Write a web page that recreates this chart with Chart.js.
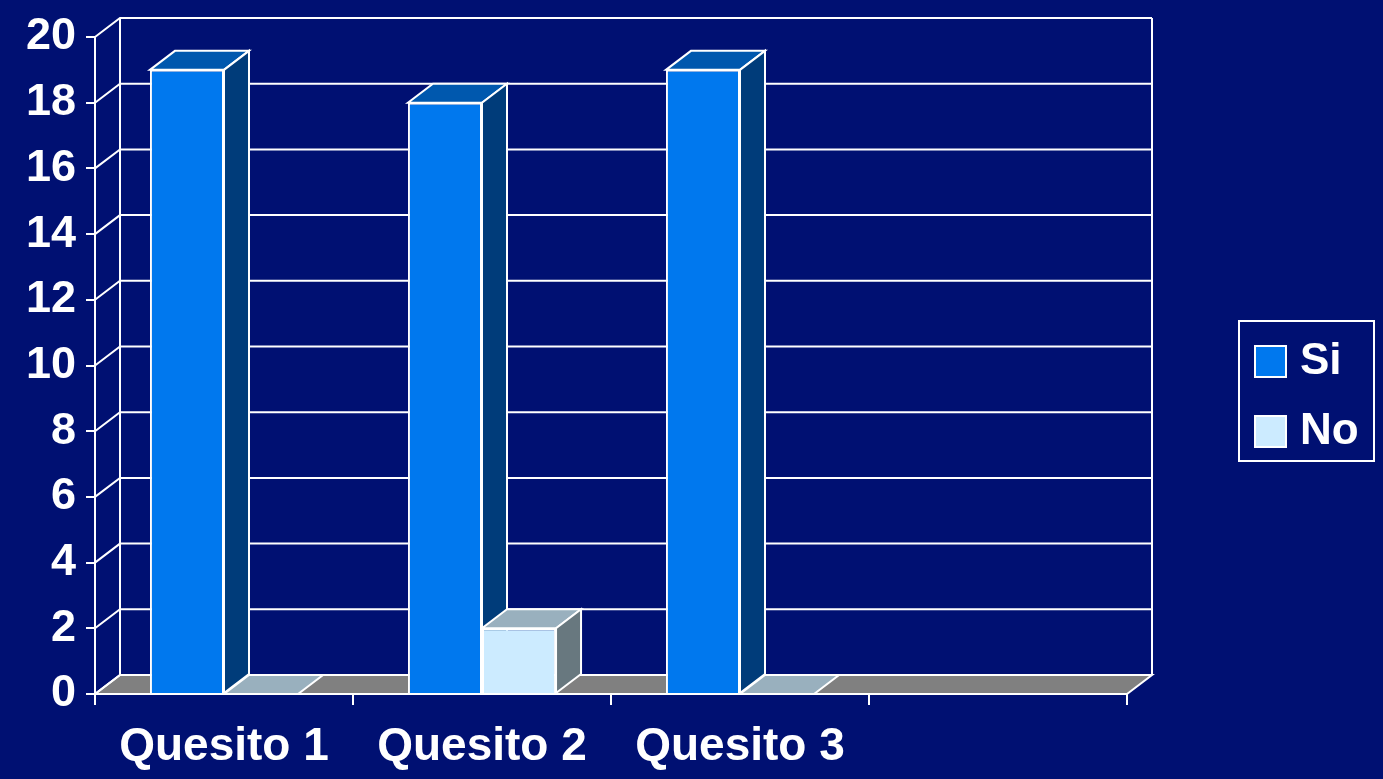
<!DOCTYPE html>
<html>
<head>
<meta charset="utf-8">
<script src="https://cdn.jsdelivr.net/npm/chart.js@4/dist/chart.umd.min.js"></script>
<style>
  html, body { margin: 0; padding: 0; background: #001072; }
  canvas { display: block; }
</style>
</head>
<body>
<canvas id="grafica" width="1383" height="779"></canvas>
<script>
// datos del grafico
const categorias = ['Quesito 1', 'Quesito 2', 'Quesito 3', ''];
const valoresSi = [19, 18, 19, null];
const valoresNo = [0, 2, 0, null];
const nombresSeries = ['Si', 'No'];
const marcasY = [0, 2, 4, 6, 8, 10, 12, 14, 16, 18, 20];

const fondo = '#001072';
const coloresFrente = ['#0078EE', '#CCEBFF'];
const coloresArriba = ['#0058AE', '#99B0BE'];
const coloresLado = ['#003C7A', '#68787F'];
const dx = 25, dy = -19;

const fuente = "'Liberation Sans', Arial, sans-serif";

function poligono(ctx, pts, relleno) {
    ctx.beginPath();
    ctx.moveTo(pts[0][0], pts[0][1]);
    for (let i = 1; i < pts.length; i++) ctx.lineTo(pts[i][0], pts[i][1]);
    ctx.closePath();
    if (relleno) {
        ctx.fillStyle = relleno;
        ctx.fill();
    }
    ctx.stroke();
}

const pared3d = {
    id: 'pared3d',
    beforeDraw(chart) {
        const ctx = chart.ctx;
        ctx.save();
        ctx.fillStyle = fondo;
        ctx.fillRect(0, 0, chart.width, chart.height);
        ctx.restore();
    },
    beforeDatasetsDraw(chart) {
        const ctx = chart.ctx;
        const a = chart.chartArea;
        const y = chart.scales.y;
        const y0 = y.getPixelForValue(0);
        ctx.save();
        ctx.strokeStyle = '#ffffff';
        ctx.lineWidth = 2;

        // piso
        poligono(ctx, [[a.left, y0], [a.right, y0], [a.right + dx, y0 + dy], [a.left + dx, y0 + dy]], '#808080');

        // lineas de la pared del fondo
        marcasY.forEach(v => {
            const py = y.getPixelForValue(v);
            ctx.beginPath();
            ctx.moveTo(a.left, py);
            ctx.lineTo(a.left + dx, py + dy);
            ctx.lineTo(a.right + dx, py + dy);
            ctx.stroke();
        });
        const yTop = y.getPixelForValue(20);
        ctx.beginPath();
        ctx.moveTo(a.left + dx, yTop + dy);
        ctx.lineTo(a.left + dx, y0 + dy);
        ctx.moveTo(a.right + dx, yTop + dy);
        ctx.lineTo(a.right + dx, y0 + dy);
        ctx.stroke();

        // caras de arriba y de lado de las barras
        chart.data.datasets.forEach((ds, i) => {
            const meta = chart.getDatasetMeta(i);
            meta.data.forEach((bar, j) => {
                if (ds.data[j] === null) return;
                const l = bar.x - bar.width / 2;
                const r = bar.x + bar.width / 2;
                const t = bar.y;
                const b = bar.base;
                poligono(ctx, [[l, t], [r, t], [r + dx, t + dy], [l + dx, t + dy]], coloresArriba[i]);
                if (b - t > 0.5) {
                    poligono(ctx, [[r, t], [r + dx, t + dy], [r + dx, b + dy], [r, b]], coloresLado[i]);
                }
            });
        });
        ctx.restore();
    },
    afterDraw(chart) {
        // leyenda
        const ctx = chart.ctx;
        ctx.save();
        ctx.strokeStyle = '#ffffff';
        ctx.lineWidth = 2;
        ctx.strokeRect(1239, 321, 135, 140);
        ctx.font = 'bold 44px ' + fuente;
        ctx.textBaseline = 'middle';
        nombresSeries.forEach((n, i) => {
            const cy = 361 + i * 70;
            ctx.fillStyle = coloresFrente[i];
            ctx.fillRect(1255, cy - 15, 31, 31);
            ctx.strokeRect(1255, cy - 15, 31, 31);
            ctx.fillStyle = '#ffffff';
            ctx.fillText(n, 1300, cy + 1);
        });
        ctx.restore();
    }
};

new Chart(document.getElementById('grafica').getContext('2d'), {
    type: 'bar',
    data: {
        labels: categorias,
        datasets: [
            {
                label: nombresSeries[0],
                data: valoresSi,
                backgroundColor: coloresFrente[0],
                borderColor: '#ffffff',
                borderWidth: 2
            },
            {
                label: nombresSeries[1],
                data: valoresNo,
                backgroundColor: coloresFrente[1],
                borderColor: '#ffffff',
                borderWidth: 2
            }
        ]
    },
    options: {
        responsive: false,
        animation: false,
        categoryPercentage: 0.574,
        barPercentage: 1,
        layout: { padding: { top: 34, right: 256, left: 0, bottom: 0 } },
        plugins: {
            legend: { display: false },
            tooltip: { enabled: false }
        },
        scales: {
            x: {
                grid: { display: true, drawOnChartArea: false, color: '#ffffff', lineWidth: 2, tickLength: 11 },
                border: { display: true, color: '#ffffff', width: 2 },
                ticks: { color: '#ffffff', font: { family: fuente, size: 46, weight: 'bold' }, padding: 15, maxRotation: 0 },
                afterFit(scale) { scale.height = 85; }
            },
            y: {
                min: 0,
                max: 20,
                grid: { display: true, drawOnChartArea: false, color: '#ffffff', lineWidth: 2, tickLength: 9 },
                border: { display: true, color: '#ffffff', width: 2 },
                ticks: { stepSize: 2, color: '#ffffff', font: { family: fuente, size: 45, weight: 'bold' }, padding: 10 },
                afterFit(scale) { scale.width = 95; }
            }
        }
    },
    plugins: [pared3d]
});
</script>
</body>
</html>
